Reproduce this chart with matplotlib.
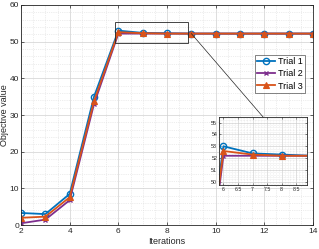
import matplotlib
matplotlib.use("Agg")
import matplotlib.pyplot as plt
from matplotlib.ticker import AutoMinorLocator, MultipleLocator, FuncFormatter
from matplotlib.patches import Rectangle, ConnectionPatch

plt.rcParams["font.family"] = ["Liberation Sans", "DejaVu Sans"]

iterations = [2, 3, 4, 5, 6, 7, 8, 9, 10, 11, 12, 13, 14]
trial1 = [3.3, 3.0, 8.5, 35.0, 53.0, 52.4, 52.3, 52.2, 52.2, 52.2, 52.2, 52.2, 52.2]
trial2 = [0.5, 1.5, 6.8, 33.0, 52.2, 52.2, 52.2, 52.2, 52.2, 52.2, 52.2, 52.2, 52.2]
trial3 = [2.0, 2.3, 7.6, 33.8, 52.6, 52.3, 52.2, 52.2, 52.2, 52.2, 52.2, 52.2, 52.2]
labels = ["Trial 1", "Trial 2", "Trial 3"]

c1, c2, c3 = "#0072BD", "#7E2F8E", "#D95319"

fig = plt.figure(figsize=(3.19, 2.49), dpi=100)
ax = fig.add_axes([0.066, 0.096, 0.915, 0.884])

def draw(a, ms_scale=1.0):
    a.plot(iterations, trial1, color=c1, lw=1.3, marker="o", ms=4.5 * ms_scale,
           mfc="none", mew=1.0, label=labels[0])
    a.plot(iterations, trial2, color=c2, lw=1.3, marker="x", ms=3.5 * ms_scale,
           mew=1.0, label=labels[1])
    a.plot(iterations, trial3, color=c3, lw=1.3, marker="^", ms=5 * ms_scale,
           mfc=c3, mew=0.8, label=labels[2])

draw(ax)
ax.set_xlim(2, 14)
ax.set_ylim(0, 60)
ax.xaxis.set_major_locator(MultipleLocator(2))
ax.yaxis.set_major_locator(MultipleLocator(10))
ax.xaxis.set_minor_locator(AutoMinorLocator(4))
ax.yaxis.set_minor_locator(AutoMinorLocator(5))
ax.grid(True, which="major", color="#d0d0d0", lw=0.5, ls="-")
ax.grid(True, which="minor", color="#dcdcdc", lw=0.5, ls=":")
ax.tick_params(which="both", direction="in", top=True, right=True, labelsize=6,
               colors="#262626", length=2.5, width=0.5, pad=2)
ax.tick_params(axis="y", pad=1.5)
ax.tick_params(which="minor", length=0)
for s in ax.spines.values():
    s.set_color("#262626")
    s.set_linewidth(0.6)
ax.set_xlabel("Iterations", fontsize=6.5, color="#262626", labelpad=1.5)
ax.set_ylabel("Objective value", fontsize=6.5, color="#262626", labelpad=0.5)

leg = ax.legend(loc="upper left", bbox_to_anchor=(0.80, 0.775), fontsize=6.5,
                frameon=True, fancybox=False, edgecolor="#262626",
                handlelength=2.0, borderpad=0.3, labelspacing=0.35, handletextpad=0.3,
                borderaxespad=0)
leg.get_frame().set_linewidth(0.5)

# zoom rectangle
x0, x1, y0, y1 = 5.86, 8.88, 49.75, 55.45
ax.add_patch(Rectangle((x0, y0), x1 - x0, y1 - y0, fill=False, ec="#262626", lw=0.6, zorder=5))

# inset
axi = fig.add_axes([0.6875, 0.258, 0.276, 0.271])
draw(axi, 1.0)
axi.set_xlim(x0, x1)
axi.set_ylim(y0, y1)
axi.xaxis.set_major_locator(MultipleLocator(0.5))
axi.yaxis.set_major_locator(MultipleLocator(1))
axi.xaxis.set_major_formatter(FuncFormatter(lambda v, p: f"{v:g}"))
axi.xaxis.set_minor_locator(AutoMinorLocator(5))
axi.yaxis.set_minor_locator(AutoMinorLocator(5))
axi.grid(True, which="major", color="#c8c8c8", lw=0.4, ls="-")
axi.grid(True, which="minor", color="#dcdcdc", lw=0.4, ls=":")
axi.tick_params(which="both", direction="in", top=True, right=True, labelsize=3.8,
                colors="#262626", length=1.5, width=0.4, pad=1.5)
axi.tick_params(which="minor", length=0)
for s in axi.spines.values():
    s.set_color("#262626")
    s.set_linewidth(0.6)

con = ConnectionPatch(xyA=(9.0, 52.2), coordsA=ax.transData,
                      xyB=(0.5, 1.0), coordsB=axi.transAxes,
                      color="#262626", lw=0.5)
fig.add_artist(con)

fig.savefig("out.png", dpi=100)
